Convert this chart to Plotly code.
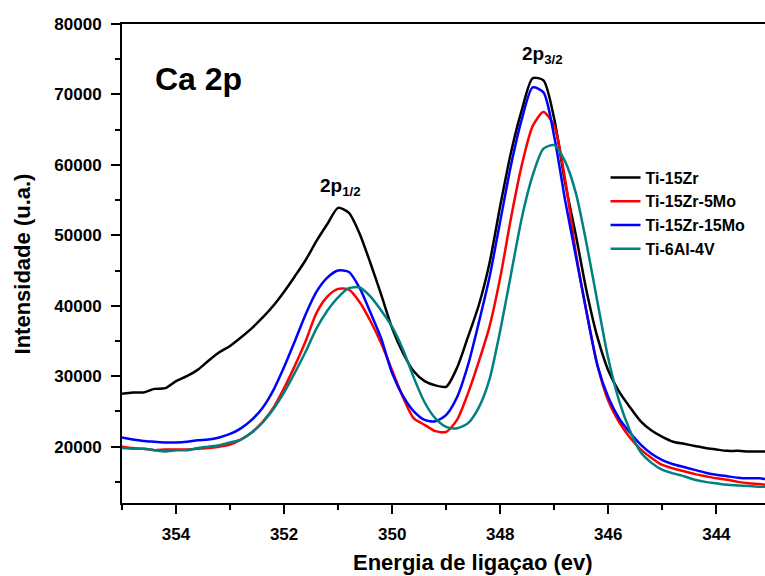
import plotly.graph_objects as go

energy = [355.0, 354.8, 354.6, 354.4, 354.2, 354.0, 353.8, 353.6, 353.4, 353.2,
          353.0, 352.8, 352.6, 352.4, 352.2, 352.0, 351.8, 351.6, 351.4, 351.2,
          351.0, 350.8, 350.6, 350.4, 350.2, 350.0, 349.8, 349.6, 349.4, 349.2,
          349.0, 348.8, 348.6, 348.4, 348.2, 348.0, 347.8, 347.6, 347.4, 347.2,
          347.0, 346.8, 346.6, 346.4, 346.2, 346.0, 345.8, 345.6, 345.4, 345.2,
          345.0, 344.8, 344.6, 344.4, 344.2, 344.0, 343.8, 343.6, 343.4, 343.2,
          343.1]

ti15zr = [27500, 27700, 27700, 28200, 28300, 29300, 30000, 30900, 32200, 33400,
          34300, 35500, 36800, 38300, 40000, 42000, 44200, 46500, 49200, 51600,
          53900, 53200, 50200, 46000, 41500, 36800, 33300, 30700, 29300, 28700,
          28500, 31200, 35500, 40000, 46000, 54200, 61800, 67800, 72300, 72000,
          66500, 57500, 50000, 42000, 35500, 30800, 27800, 25600, 23600, 22300,
          21400, 20700, 20400, 20100, 19800, 19600, 19400, 19400, 19300, 19300,
          19300]

ti15zr5mo = [20000, 19800, 19700, 19500, 19600, 19600, 19600, 19700, 19800, 20000,
             20300, 21000, 22000, 23500, 25500, 28300, 31500, 35000, 39000, 41300,
             42400, 42300, 40500, 37800, 34600, 30800, 27000, 24000, 23100, 22200,
             22100, 23800, 27500, 32000, 37000, 44000, 52500, 60000, 65500, 67500,
             65500, 58000, 47500, 39000, 31500, 26500, 23500, 21300, 19600, 18400,
             17400, 16900, 16500, 16100, 15800, 15500, 15300, 15000, 14800, 14700,
             14600]

ti15zr15mo = [21300, 21000, 20800, 20700, 20600, 20600, 20700, 20900, 21000, 21300,
              21800, 22600, 23800, 25500, 28000, 31300, 35000, 38800, 42000, 44000,
              45000, 44800, 42500, 39000, 35300, 30400, 27200, 25000, 23800, 23600,
              24500, 27000, 31500, 37500, 44000, 52000, 60000, 66500, 71000, 70300,
              64000, 55000, 47000, 39000, 31500, 27000, 24000, 22000, 20300, 19000,
              18100, 17500, 17100, 16700, 16300, 16000, 15800, 15600, 15500, 15500,
              15400]

ti6al4v = [19800, 19700, 19700, 19500, 19300, 19500, 19500, 19800, 20000, 20200,
           20600, 21000, 22000, 23400, 25300, 27700, 30500, 33500, 36800, 39300,
           41200, 42500, 42600, 41300, 39300, 37000, 33800, 29800, 26300, 24000,
           22800, 22600, 23300, 25500, 29500, 36500, 44500, 52500, 58500, 62300,
           62800, 60500, 56000, 48700, 40500, 32500, 26500, 22300, 19200, 17700,
           16700, 16200, 15800, 15300, 15000, 14800, 14600, 14500, 14400, 14300,
           14300]

series_names = ["Ti-15Zr", "Ti-15Zr-5Mo", "Ti-15Zr-15Mo", "Ti-6Al-4V"]
series_values = [ti15zr, ti15zr5mo, ti15zr15mo, ti6al4v]
series_colors = ["#000000", "#FF0000", "#0000FF", "#008080"]

x_ticks = [354, 352, 350, 348, 346, 344]
y_ticks = [20000, 30000, 40000, 50000, 60000, 70000, 80000]

FONT = "Liberation Sans, Arial, sans-serif"

fig = go.Figure()
for name, vals, col in zip(series_names, series_values, series_colors):
    fig.add_trace(go.Scatter(x=energy, y=vals, mode="lines", name=name,
                             line=dict(color=col, width=2.5, shape="spline", smoothing=0.7)))

fig.update_layout(
    width=765, height=576,
    margin=dict(l=122, r=0, t=24, b=73),
    paper_bgcolor="white", plot_bgcolor="white",
    font=dict(family=FONT, color="black"),
    showlegend=True,
    legend=dict(x=0.752, y=0.715, xanchor="left", yanchor="top",
                bgcolor="rgba(0,0,0,0)",
                font=dict(family=FONT, size=16, color="black", weight="bold"),
                tracegroupgap=0, itemwidth=30),
    xaxis=dict(range=[355, 343.1], tickvals=x_ticks, ticktext=[str(v) for v in x_ticks],
               ticks="outside", ticklen=9, tickwidth=2, tickcolor="black",
               showline=True, linewidth=2, linecolor="black", mirror=True,
               showgrid=False, zeroline=False,
               tickfont=dict(family=FONT, size=17, color="black", weight="bold"),
               ticklabelstandoff=6,
               minor=dict(dtick=1, tick0=355, ticks="outside", ticklen=5,
                          tickwidth=2, tickcolor="black", showgrid=False)),
    yaxis=dict(range=[12000, 80000], tickvals=y_ticks, tickformat="d",
               ticks="outside", ticklen=9, tickwidth=2, tickcolor="black",
               showline=True, linewidth=2, linecolor="black",
               showgrid=False, zeroline=False,
               tickfont=dict(family=FONT, size=17, color="black", weight="bold"),
               ticklabelstandoff=6,
               minor=dict(dtick=5000, tick0=0, ticks="outside", ticklen=5,
                          tickwidth=2, tickcolor="black", showgrid=False)),
)

annots = [
    dict(text="Energia de ligaçao (ev)", x=0.546, y=-0.125, xanchor="center", yanchor="middle",
         font=dict(family=FONT, size=22, weight="bold")),
    dict(text="Intensidade (u.a.)", x=-0.154, y=0.5, textangle=-90, xanchor="center", yanchor="middle",
         font=dict(family=FONT, size=22, weight="bold")),
    dict(text="Ca 2p", x=0.048, y=0.885, xanchor="left", yanchor="middle",
         font=dict(family=FONT, size=32, weight="bold")),
    dict(text="2p<sub>1/2</sub>", x=0.34, y=0.66, xanchor="center", yanchor="middle",
         font=dict(family=FONT, size=19, weight="bold")),
    dict(text="2p<sub>3/2</sub>", x=0.654, y=0.935, xanchor="center", yanchor="middle",
         font=dict(family=FONT, size=19, weight="bold")),
]
for a in annots:
    a.update(xref="paper", yref="paper", showarrow=False)
    fig.add_annotation(**a)

fig.write_html("out.html")
